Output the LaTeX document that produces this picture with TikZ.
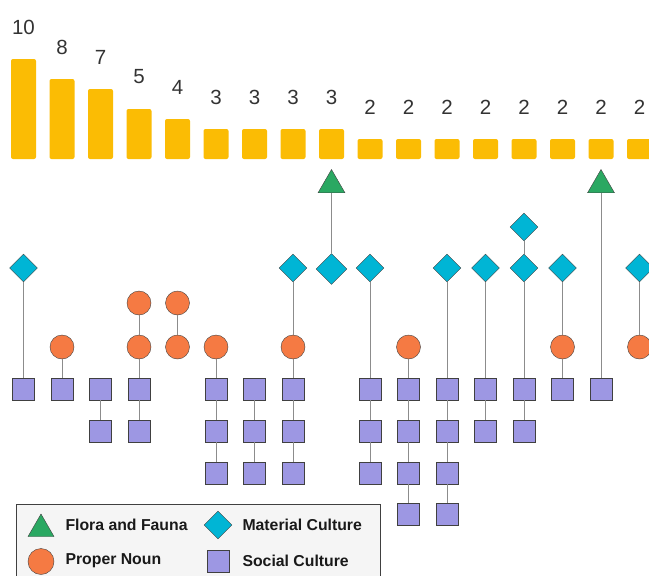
\documentclass[tikz,border=0pt]{standalone}
\usepackage{fontspec}
\setmainfont{Liberation Sans}
\usetikzlibrary{shapes.geometric}

\definecolor{barfill}{HTML}{FBBC04}
\definecolor{florafill}{HTML}{2AA862}
\definecolor{materialfill}{HTML}{00B5D5}
\definecolor{properfill}{HTML}{F57A43}
\definecolor{socialfill}{HTML}{9D97E3}

\tikzstyle{flora-vertex}=[regular polygon, regular polygon sides=3, draw=black!75,
						 fill=florafill, minimum size=31pt, inner sep=0pt]
\tikzstyle{material-vertex}=[diamond, draw=black!75, fill=materialfill,
							minimum size=28pt, inner sep=0pt]
\tikzstyle{proper-vertex}=[circle, draw=black!75, fill=properfill,
						  minimum size=24pt, inner sep=0pt]
\tikzstyle{social-vertex}=[rectangle, draw=black!75, fill=socialfill,
						  minimum size=22pt, inner sep=0pt]
\tikzstyle{edge} = [draw, black!45, line width=0.9pt, -]
\tikzstyle{bar} = [fill=barfill, rounded corners=2pt]
\tikzstyle{count} = [font=\fontsize{20.5}{24}\selectfont, text=black!80]
\tikzstyle{key} = [font=\bfseries\fontsize{15.8}{18}\selectfont, text=black!90,
				  anchor=west]

\begin{document}
\begin{tikzpicture}[x=1pt, y=-1pt]
    \useasboundingbox (0,0) rectangle (649,576);
    % First we draw the bars and their counts
    \foreach \x/\n in {23.5/10, 62/8, 100.5/7, 139/5, 177.5/4, 216/3, 254.5/3,
    	293/3, 331.5/3, 370/2, 408.5/2, 447/2, 485.5/2, 524/2, 562.5/2, 601/2,
    	639.5/2} {
      \path[bar] (\x-12.5,159) rectangle ++(25,-10*\n);
      \node[count] (n\x) at (\x, 127-10*\n) {\n};
    }
    % Then the vertices of every set
    \foreach \pos/\name in {{(331.5,185)/f9}, {(601,185)/f16}}
      \node[flora-vertex] (\name) at \pos {};
    \foreach \pos/\name in {{(23.5,268)/m1}, {(293,268)/m8}, {(370,268)/m10},
    	{(447,268)/m12}, {(485.5,268)/m13}, {(524,227)/m14b}, {(524,268)/m14},
    	{(562.5,268)/m15}, {(639.5,268)/m17}}
      \node[material-vertex] (\name) at \pos {};
    \node[material-vertex, minimum size=31pt] (m9) at (331.5,269) {};
    \foreach \pos/\name in {{(62,347)/p2}, {(139,303)/p4b}, {(139,347)/p4},
    	{(177.5,303)/p5b}, {(177.5,347)/p5}, {(216,347)/p6}, {(293,347)/p8},
    	{(408.5,347)/p11}, {(562.5,347)/p15}, {(639.5,347)/p17}}
      \node[proper-vertex] (\name) at \pos {};
    \foreach \pos/\name in {{(23.5,389)/s1a}, {(62,389)/s2a}, {(100.5,389)/s3a},
    	{(100.5,431)/s3b}, {(139,389)/s4a}, {(139,431)/s4b}, {(216,389)/s6a},
    	{(216,431)/s6b}, {(216,473)/s6c}, {(254.5,389)/s7a}, {(254.5,431)/s7b},
    	{(254.5,473)/s7c}, {(293,389)/s8a}, {(293,431)/s8b}, {(293,473)/s8c},
    	{(370,389)/s10a}, {(370,431)/s10b}, {(370,473)/s10c}, {(408.5,389)/s11a},
    	{(408.5,431)/s11b}, {(408.5,473)/s11c}, {(408.5,514)/s11d},
    	{(447,389)/s12a}, {(447,431)/s12b}, {(447,473)/s12c}, {(447,514)/s12d},
    	{(485.5,389)/s13a}, {(485.5,431)/s13b}, {(524,389)/s14a},
    	{(524,431)/s14b}, {(562.5,389)/s15a}, {(601,389)/s16a}}
      \node[social-vertex] (\name) at \pos {};
    % Connect the vertices of each column
    \foreach \source/ \dest in {m1/s1a, p2/s2a, s3a/s3b, p4b/p4, p4/s4a,
    							s4a/s4b, p5b/p5, p6/s6a, s6a/s6b, s6b/s6c,
    							s7a/s7b, s7b/s7c, m8/p8, p8/s8a, s8a/s8b,
    							s8b/s8c, f9/m9, m10/s10a, s10a/s10b, s10b/s10c,
    							p11/s11a, s11a/s11b, s11b/s11c, s11c/s11d,
    							m12/s12a, s12a/s12b, s12b/s12c, s12c/s12d,
    							m13/s13a, s13a/s13b, m14b/m14, m14/s14a,
    							s14a/s14b, m15/p15, p15/s15a, f16/s16a, m17/p17}
      \path[edge] (\source) -- (\dest);
    % Legend
    \path[draw=black!75, fill=black!4, line width=0.9pt] (16,504) rectangle (380,600);
    \node[flora-vertex, minimum size=30pt] (lf) at (41,529) {};
    \node[key] (lft) at (62,525) {Flora and Fauna};
    \node[material-vertex] (lm) at (218,525) {};
    \node[key] (lmt) at (239,525) {Material Culture};
    \node[proper-vertex, minimum size=26pt] (lp) at (41,561.5) {};
    \node[key] (lpt) at (62,561) {Proper Noun};
    \node[social-vertex] (ls) at (218,561) {};
    \node[key] (lst) at (239,561) {Social Culture};
\end{tikzpicture}
\end{document}
